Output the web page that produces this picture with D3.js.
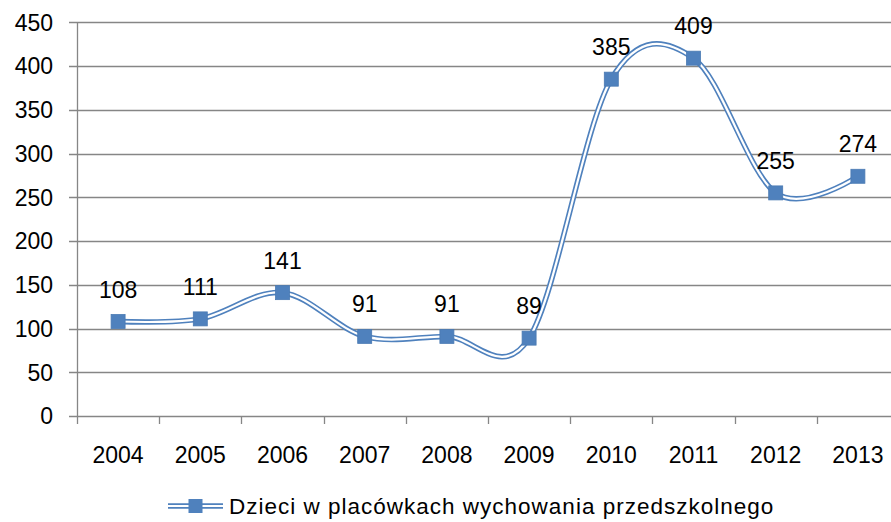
<!DOCTYPE html>
<meta charset="utf-8">
<script src="https://d3js.org/d3.v7.min.js"></script>
<style>
    body { margin: 0; background: #fff; }
    text { font-family: "Liberation Sans", Arial, sans-serif; fill: #000; }
</style>
<svg id="chart"></svg>
<script>
    // Data
    var years = ["2004", "2005", "2006", "2007", "2008", "2009", "2010", "2011", "2012", "2013"];
    var values = [108, 111, 141, 91, 91, 89, 385, 409, 255, 274];
    var yTicks = [0, 50, 100, 150, 200, 250, 300, 350, 400, 450];
    var seriesName = "Dzieci w placówkach wychowania przedszkolnego";

    var width = 891, height = 522;
    var blue = "#4f81bd";
    var fs = "23px";

    var svg = d3.select("#chart")
        .attr("width", width)
        .attr("height", height);

    // plot area runs past the right edge (cropped in the original)
    var x = d3.scaleBand().domain(years).range([77, 899]);
    var y = d3.scaleLinear().domain([0, 450]).range([416, 22.3]);

    // horizontal gridlines
    svg.append("g")
        .selectAll("line")
        .data(yTicks)
        .enter().append("line")
        .attr("x1", 69)
        .attr("x2", 899)
        .attr("y1", d => Math.round(y(d)) + 0.5)
        .attr("y2", d => Math.round(y(d)) + 0.5)
        .attr("stroke", "#868686")
        .attr("stroke-width", 1.3);

    // y axis line
    svg.append("line")
        .attr("x1", 77.5).attr("x2", 77.5)
        .attr("y1", y(450)).attr("y2", y(0))
        .attr("stroke", "#868686")
        .attr("stroke-width", 1.3);

    // x ticks at category boundaries
    var bounds = years.map(d => x(d)).concat([x.range()[1]]);
    svg.append("g")
        .selectAll("line")
        .data(bounds)
        .enter().append("line")
        .attr("x1", d => Math.round(d) + 0.5)
        .attr("x2", d => Math.round(d) + 0.5)
        .attr("y1", y(0))
        .attr("y2", y(0) + 8)
        .attr("stroke", "#868686")
        .attr("stroke-width", 1.3);

    // y tick labels
    svg.append("g")
        .selectAll("text")
        .data(yTicks)
        .enter().append("text")
        .attr("x", 53)
        .attr("y", d => y(d))
        .attr("dy", "0.36em")
        .attr("text-anchor", "end")
        .style("font-size", fs)
        .text(d => d);

    // x tick labels
    svg.append("g")
        .selectAll("text")
        .data(years)
        .enter().append("text")
        .attr("x", d => x(d) + x.bandwidth() / 2)
        .attr("y", 463)
        .attr("text-anchor", "middle")
        .style("font-size", fs)
        .text(d => d);

    var pts = years.map((d, i) => [x(d) + x.bandwidth() / 2, y(values[i])]);

    var line = d3.line().curve(d3.curveCardinal.tension(0));

    // double line: blue outer, white inner
    svg.append("path")
        .attr("d", line(pts))
        .attr("fill", "none")
        .attr("stroke", blue)
        .attr("stroke-width", 5.5);
    svg.append("path")
        .attr("d", line(pts))
        .attr("fill", "none")
        .attr("stroke", "#fff")
        .attr("stroke-width", 2.2);

    // markers
    svg.append("g")
        .selectAll("rect")
        .data(pts)
        .enter().append("rect")
        .attr("x", d => d[0] - 7)
        .attr("y", d => d[1] - 7)
        .attr("width", 14)
        .attr("height", 14)
        .attr("fill", blue)
        .attr("stroke", "#4a7ab3")
        .attr("stroke-width", 0.8);

    // value labels
    svg.append("g")
        .selectAll("text")
        .data(pts)
        .enter().append("text")
        .attr("x", d => d[0])
        .attr("y", d => d[1] - 24)
        .attr("text-anchor", "middle")
        .style("font-size", fs)
        .text((d, i) => values[i]);

    // legend
    var lg = svg.append("g").attr("transform", "translate(168,506)");
    lg.append("line")
        .attr("x1", 0).attr("x2", 55)
        .attr("stroke", blue).attr("stroke-width", 5.5);
    lg.append("line")
        .attr("x1", 0).attr("x2", 55)
        .attr("stroke", "#fff").attr("stroke-width", 2.2);
    lg.append("rect")
        .attr("x", 20.5).attr("y", -7)
        .attr("width", 14).attr("height", 14)
        .attr("fill", blue);
    lg.append("text")
        .attr("x", 61)
        .attr("y", 0)
        .attr("dy", "0.36em")
        .style("font-size", "22.5px")
        .style("letter-spacing", "1px")
        .text(seriesName);
</script>
